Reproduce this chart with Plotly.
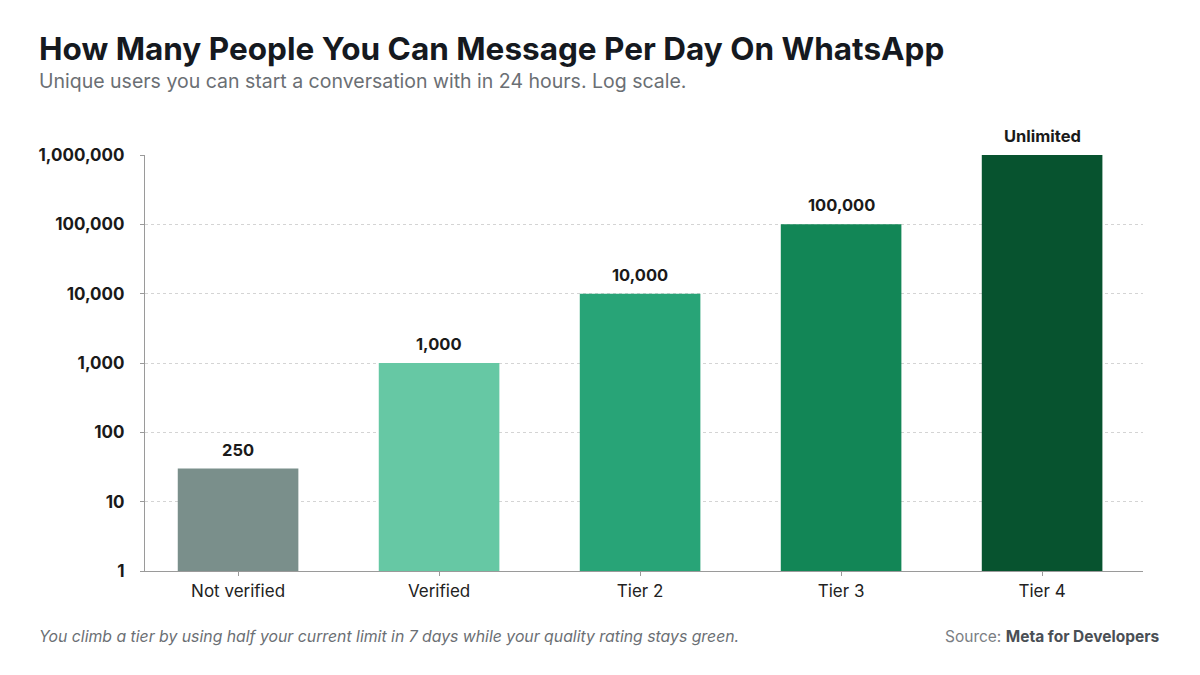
import plotly.graph_objects as go
import math

categories = ["Not verified", "Verified", "Tier 2", "Tier 3", "Tier 4"]
bar_values = [30, 1000, 10000, 100000, 1000000]
value_labels = ["250", "1,000", "10,000", "100,000", "Unlimited"]
bar_colors = ["#7A8F8B", "#66C8A4", "#28A477", "#128656", "#07532F"]
tick_vals = [1, 10, 100, 1000, 10000, 100000, 1000000]
tick_text = ["1", "10", "100", "1,000", "10,000", "100,000", "1,000,000"]

FONT = "Inter, Lato, sans-serif"

fig = go.Figure()
fig.add_trace(go.Bar(
    x=categories, y=bar_values,
    marker=dict(color=bar_colors, line=dict(width=0)),
    width=0.6, cliponaxis=False, hoverinfo="skip",
))

for c, v, t in zip(categories, bar_values, value_labels):
    fig.add_annotation(x=c, y=math.log10(v), text=f"<b>{t}</b>", showarrow=False,
                       yanchor="bottom", yshift=7,
                       font=dict(family=FONT, size=16.5, color="#1a1a1a"))

fig.update_layout(
    width=1200, height=675,
    paper_bgcolor="white", plot_bgcolor="white",
    margin=dict(l=145, r=57, t=155, b=104),
    showlegend=False,
    font=dict(family=FONT),
    xaxis=dict(
        range=[-0.463, 4.502], showgrid=False,
        showline=True, linecolor="#9a9a9a", linewidth=1.2,
        ticks="outside", ticklen=4, tickcolor="#9a9a9a",
        tickfont=dict(family=FONT, size=17, color="#222222"),
        fixedrange=True,
    ),
    yaxis=dict(
        type="log", range=[0, 6],
        tickvals=tick_vals, ticktext=[f"<b>{t}</b>" for t in tick_text],
        showgrid=True, gridcolor="#d4d4d4", griddash="dot", gridwidth=1,
        showline=True, linecolor="#9a9a9a", linewidth=1.2,
        ticks="outside", ticklen=4, tickcolor="#9a9a9a",
        ticklabelstandoff=12,
        tickfont=dict(family=FONT, size=17, color="#1a1a1a"),
        zeroline=False, fixedrange=True,
    ),
)

fig.add_annotation(xref="paper", yref="paper", x=-145/998, y=1 + (155 - 48) / 416,
                   xanchor="left", yanchor="middle", xshift=37,
                   text="<b>How Many People You Can Message Per Day On WhatsApp</b>",
                   showarrow=False, font=dict(family=FONT, size=31.5, color="#15191f"))
fig.add_annotation(xref="paper", yref="paper", x=-145/998, y=1 + (155 - 81) / 416,
                   xanchor="left", yanchor="middle", xshift=37,
                   text="Unique users you can start a conversation with in 24 hours. Log scale.",
                   showarrow=False, font=dict(family=FONT, size=19.5, color="#6b6f74"))
fig.add_annotation(xref="paper", yref="paper", x=-145/998, y=-(636 - 571) / 416,
                   xanchor="left", yanchor="middle", xshift=37,
                   text="<i>You climb a tier by using half your current limit in 7 days while your quality rating stays green.</i>",
                   showarrow=False, font=dict(family=FONT, size=15.8, color="#6b6f74"))
fig.add_annotation(xref="paper", yref="paper", x=1 + 19/998, y=-(636 - 571) / 416,
                   xanchor="right", yanchor="middle",
                   text="Source: <b><span style='color:#4a4f55'>Meta for Developers</span></b>",
                   showarrow=False, font=dict(family=FONT, size=15.5, color="#7a7e83"))

fig.write_html("out.html")
